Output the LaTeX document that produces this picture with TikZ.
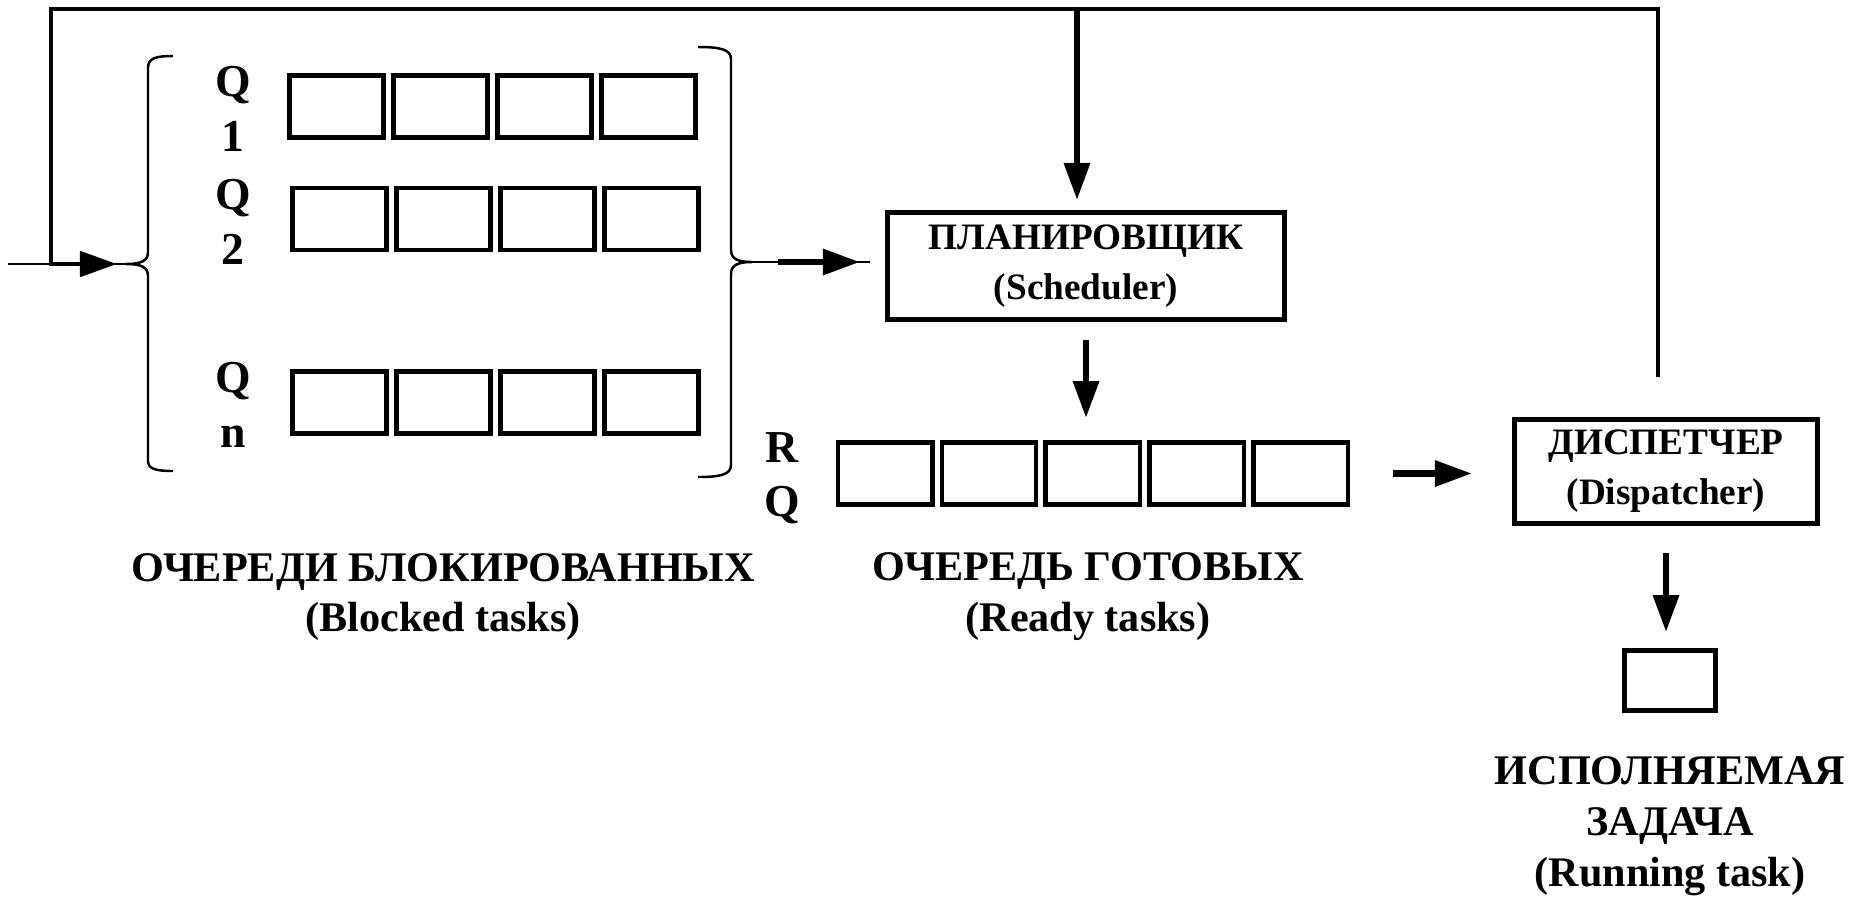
\documentclass[tikz,border=0pt]{standalone}
\usepackage{fontspec}
\setmainfont{Liberation Serif}
\usetikzlibrary{arrows.meta,positioning}

\begin{document}
\begin{tikzpicture}[
	x=0.01cm, y=-0.01cm,
	font=\bfseries,
	node distance=0.05cm,
	>={Triangle[length=3.7mm,width=2.5mm]},
	cell/.style={rectangle, draw, line width=1.4pt, minimum width=0.94cm, minimum height=0.62cm, inner sep=0pt},
	proc/.style={rectangle, draw, line width=1.4pt, align=center, inner sep=0pt, font=\bfseries\fontsize{10.6}{14.2}\selectfont},
	qlbl/.style={align=center, inner sep=0pt, font=\bfseries\fontsize{13}{15.5}\selectfont},
	lbl/.style={align=center, inner sep=0pt, font=\bfseries\fontsize{12}{14.5}\selectfont},
	arr/.style={->, line width=1.8pt},
	flow/.style={line width=1.4pt},
	thinline/.style={line width=0.5pt},
	qbrace/.style={line width=0.7pt}
]
\useasboundingbox (0,0) rectangle (1861,899);

% --- Blocked queues ---
\node[cell] (q1c1) at (336.5,106.5) {};
\node[cell] (q2c1) at (339.5,219) {};
\node[cell] (qnc1) at (339.5,402.5) {};
\foreach \i [count=\j from 2] in {1,2,3} {
	\node[cell, right=of q1c\i] (q1c\j) {};
	\node[cell, right=of q2c\i] (q2c\j) {};
	\node[cell, right=of qnc\i] (qnc\j) {};
}
\node[qlbl] (q1lbl) at (233,109) {Q\\1};
\node[qlbl] (q2lbl) at (233,222) {Q\\2};
\node[qlbl] (qnlbl) at (233,405) {Q\\n};
\node[lbl] (blocked) at (443,597) {ОЧЕРЕДИ БЛОКИРОВАННЫХ\\(Blocked tasks)};

% --- Braces ---
\coordinate (lcusp) at (126,264);
\coordinate (rcusp) at (752,262);
\draw[qbrace] (173,56) .. controls (156,56) and (148,58) .. (148,68) -- (148,252)
	.. controls (148,261) and (141,264) .. (lcusp) .. controls (141,264) and (148,267) .. (148,276)
	-- (148,461) .. controls (148,469) and (156,471) .. (173,471);
\draw[qbrace] (698,47) .. controls (719,47) and (731,49) .. (731,59) -- (731,250)
	.. controls (731,259) and (738,262) .. (rcusp) .. controls (738,262) and (731,265) .. (731,274)
	-- (731,465) .. controls (731,475) and (719,477) .. (698,477);

% --- Scheduler and ready queue ---
\node[proc, minimum width=3.97cm, minimum height=1.07cm] (sched) at (1086,266) {ПЛАНИРОВЩИК\\(Scheduler)};
\node[cell] (rq1) at (885,473.5) {};
\foreach \i [count=\j from 2] in {1,...,4}
	\node[cell, right=of rq\i] (rq\j) {};
\node[qlbl] (rqlbl) at (782,478) {R\\Q};
\node[lbl] (ready) at (1088,597) {ОЧЕРЕДЬ ГОТОВЫХ\\(Ready tasks)};

% --- Dispatcher and running task ---
\node[proc, minimum width=3.03cm, minimum height=1.04cm] (disp) at (1666,471.5) {ДИСПЕТЧЕР\\(Dispatcher)};
\node[cell, minimum width=0.91cm, minimum height=0.60cm] (run) at (1670,680.5) {};
\node[lbl] (running) at (1670,826) {ИСПОЛНЯЕМАЯ\\ЗАДАЧА\\(Running task)};

% --- Edges ---
\coordinate (newtask) at (8,264);
\coordinate (loopL) at (51,9);
\coordinate (loopR) at (1658,9);
\coordinate (schedIn) at (1077,9);
\draw[thinline] (newtask) -- (lcusp);
\draw[flow, ->, shorten <=0.4cm, shorten >=0.09cm] (disp.north -| loopR) -- (loopR) -- (loopL) -- (loopL |- lcusp) -- (lcusp);
\draw[arr, shorten >=0.1cm] (schedIn) -- (schedIn |- sched.north);
\draw[thinline, shorten >=0.15cm] (rcusp) -- (rcusp -| sched.west);
\draw[arr, shorten <=0.26cm, shorten >=0.25cm] (rcusp) -- (rcusp -| sched.west);
\draw[arr, shorten <=0.18cm, shorten >=0.22cm] (sched.south) -- (sched.south |- rq3.north);
\draw[arr, shorten <=0.43cm, shorten >=0.4cm] (rq5.east) -- (rq5.east -| disp.west);
\draw[arr, shorten <=0.27cm, shorten >=0.16cm] (disp.south) -- (disp.south |- run.north);

\end{tikzpicture}
\end{document}
